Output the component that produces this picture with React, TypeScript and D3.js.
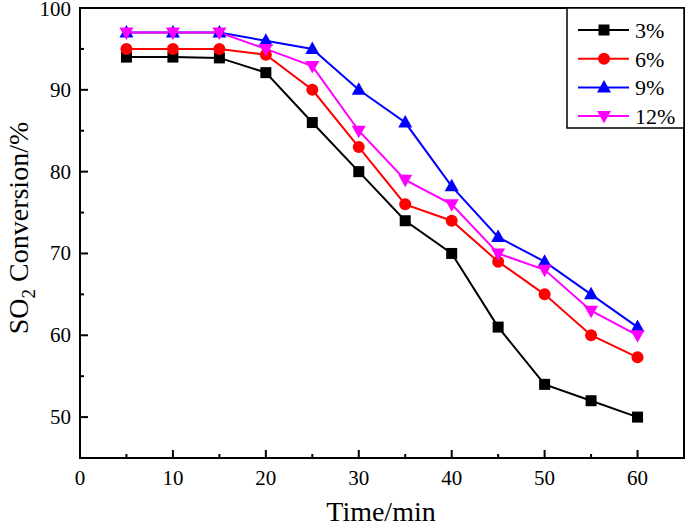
import React from "react";
import * as d3 from "d3";

const times = [5, 10, 15, 20, 25, 30, 35, 40, 45, 50, 55, 60];
const s3 = [94, 94, 93.9, 92.1, 86, 80, 74, 70, 61, 54, 52, 50];
const s6 = [95, 95, 95, 94.3, 90, 83, 76, 74, 69, 65, 60, 57.3];
const s9 = [97, 97, 97, 96, 95, 90, 86, 78.2, 72, 69, 65, 61];
const s12 = [97, 97, 97, 95, 92.9, 85, 79, 76, 70, 68, 63, 60];
const seriesNames = ["3%", "6%", "9%", "12%"];
const xTicks = [0, 10, 20, 30, 40, 50, 60];
const yTicks = [50, 60, 70, 80, 90, 100];

const W = 685, H = 528;
const L = 80, R = 684, T = 8, B = 458;
const FONT = "'Liberation Serif', 'Times New Roman', serif";

const series = [
  { name: seriesNames[0], values: s3, color: "#000000", shape: "square" },
  { name: seriesNames[1], values: s6, color: "#ff0000", shape: "circle" },
  { name: seriesNames[2], values: s9, color: "#0000ff", shape: "up" },
  { name: seriesNames[3], values: s12, color: "#ff00ff", shape: "down" },
];

function Marker({ shape, x, y, color }: { shape: string; x: number; y: number; color: string }) {
  if (shape === "square") return <rect x={x - 5.5} y={y - 5.5} width={11} height={11} fill={color} />;
  if (shape === "circle") return <circle cx={x} cy={y} r={6} fill={color} />;
  if (shape === "up")
    return <path d={`M${x},${y - 7.5} L${x + 7},${y + 5} L${x - 7},${y + 5} Z`} fill={color} />;
  return <path d={`M${x},${y + 7.5} L${x + 7},${y - 5} L${x - 7},${y - 5} Z`} fill={color} />;
}

export default function App() {
  const x = d3.scaleLinear().domain([0, 65]).range([L, R]);
  const y = d3.scaleLinear().domain([45, 100]).range([B, T]);
  const line = d3
    .line<[number, number]>()
    .x((d) => x(d[0]))
    .y((d) => y(d[1]));
  const xMinor = d3.range(5, 65, 10);
  const yMinor = d3.range(55, 100, 10);

  return (
    <svg width={W} height={H} style={{ position: "absolute", left: 0, top: 0, background: "#fff" }}>
      {series.map((s) => (
        <path
          key={s.name}
          d={line(times.map((t, i) => [t, s.values[i]]) as [number, number][]) || ""}
          fill="none"
          stroke={s.color}
          strokeWidth={2}
        />
      ))}
      {series.map((s) =>
        times.map((t, i) => (
          <Marker key={s.name + t} shape={s.shape} x={x(t)} y={y(s.values[i])} color={s.color} />
        ))
      )}
      <rect x={L} y={T} width={R - L} height={B - T} fill="none" stroke="#000" strokeWidth={2} />
      {xTicks.map((v) => (
        <g key={"xt" + v}>
          <line x1={x(v)} x2={x(v)} y1={B} y2={B - 8} stroke="#000" strokeWidth={2} />
          <text x={x(v)} y={B + 27} textAnchor="middle" fontFamily={FONT} fontSize={21}>
            {v}
          </text>
        </g>
      ))}
      {xMinor.map((v) => (
        <line key={"xm" + v} x1={x(v)} x2={x(v)} y1={B} y2={B - 4} stroke="#000" strokeWidth={2} />
      ))}
      {yTicks.map((v) => (
        <g key={"yt" + v}>
          <line x1={L} x2={L + 8} y1={y(v)} y2={y(v)} stroke="#000" strokeWidth={2} />
          <text x={L - 9} y={Math.max(y(v) + 7, 16)} textAnchor="end" fontFamily={FONT} fontSize={21}>
            {v}
          </text>
        </g>
      ))}
      {yMinor.map((v) => (
        <line key={"ym" + v} x1={L} x2={L + 4} y1={y(v)} y2={y(v)} stroke="#000" strokeWidth={2} />
      ))}
      <text x={381} y={521} textAnchor="middle" fontFamily={FONT} fontSize={28}>
        Time/min
      </text>
      <text
        transform={`translate(28, 228) rotate(-90)`}
        textAnchor="middle"
        fontFamily={FONT}
        fontSize={28}
      >
        SO<tspan fontSize={19} dy={7}>2</tspan>
        <tspan dy={-7}> Conversion/%</tspan>
      </text>
      <rect x={567} y={T} width={R - 567} height={120} fill="#fff" stroke="#000" strokeWidth={1.5} />
      {series.map((s, i) => {
        const ly = 30 + i * 28.7;
        return (
          <g key={"lg" + s.name}>
            <line x1={578} x2={629} y1={ly} y2={ly} stroke={s.color} strokeWidth={2} />
            <Marker shape={s.shape} x={604} y={ly} color={s.color} />
            <text x={635} y={ly + 8} fontFamily={FONT} fontSize={22}>
              {s.name}
            </text>
          </g>
        );
      })}
    </svg>
  );
}
